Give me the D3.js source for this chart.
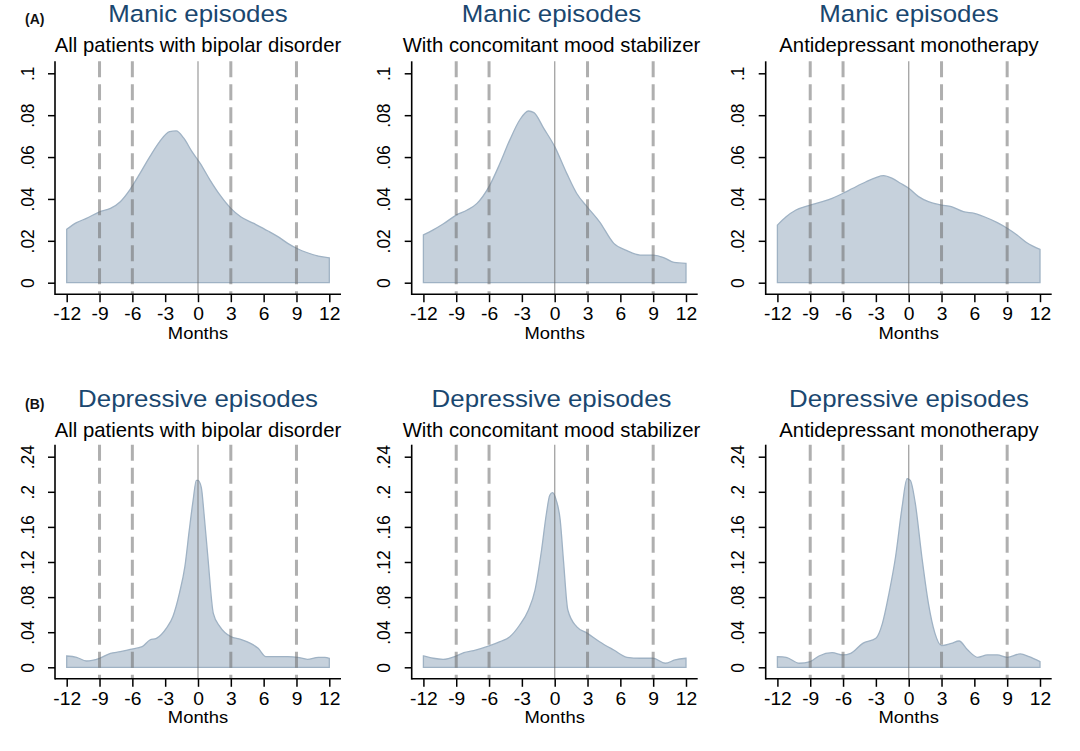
<!DOCTYPE html>
<html>
<head>
<meta charset="utf-8">
<script src="https://cdn.jsdelivr.net/npm/d3@7"></script>
<style>
  html, body { margin: 0; padding: 0; background: #fff; }
  svg { display: block; font-family: "Liberation Sans", Arial, sans-serif; }
</style>
</head>
<body>
<svg id="chart" width="1080" height="751"></svg>
<script>
// ---------------- DATA ----------------
const xTickValues = [-12, -9, -6, -3, 0, 3, 6, 9, 12];
const refLinesDashed = [-9, -6, 3, 9];
const manicYTicks = [0, 0.02, 0.04, 0.06, 0.08, 0.1];
const depYTicks = [0, 0.04, 0.08, 0.12, 0.16, 0.2, 0.24];
const episodeTitles = ["Manic episodes", "Depressive episodes"];
const groupSubtitles = ["All patients with bipolar disorder", "With concomitant mood stabilizer", "Antidepressant monotherapy"];
const panelLetters = ["(A)", "(B)"];
const xAxisTitle = "Months";

// Manic episodes – all patients
const manicAllMonths = [-12,-11.1,-10.2,-9,-8,-7.1,-6.2,-5.3,-4.4,-3.5,-2.6,-2,-1.3,-0.55,0.2,1.1,2,3,3.9,5.1,6.4,7.3,8.2,9.1,10,11,12];
const manicAllDensity = [0.0255,0.0287,0.0307,0.0338,0.0355,0.0387,0.0446,0.0522,0.0602,0.0674,0.0721,0.0725,0.069,0.0626,0.057,0.049,0.0419,0.0355,0.0315,0.0283,0.0247,0.022,0.0188,0.0162,0.0143,0.0127,0.0119];
// Manic – with mood stabilizer
const manicMSMonths = [-12,-11.1,-10.2,-9,-8,-7.1,-6,-5,-4.1,-3.2,-2.4,-1.9,-1,0,1.1,2,3,4.1,5.4,6.6,7.8,9,10,10.9,12];
const manicMSDensity = [0.0228,0.0252,0.028,0.0323,0.0347,0.0379,0.0459,0.057,0.0682,0.0777,0.082,0.0812,0.0737,0.065,0.0522,0.0427,0.036,0.0291,0.0188,0.0153,0.0132,0.0132,0.0119,0.0097,0.0092];
// Manic – antidepressant monotherapy
const manicMonoMonths = [-12,-11.2,-10.3,-9,-7.9,-7,-6,-5.1,-3.9,-3,-2.3,-1.5,-0.75,0,0.9,1.8,3,3.9,5,6,6.9,8.1,9,9.9,10.8,12];
const manicMonoDensity = [0.0275,0.0315,0.0347,0.0371,0.0387,0.0403,0.0427,0.0451,0.0482,0.0502,0.0511,0.0498,0.0475,0.0451,0.0411,0.0387,0.0371,0.0363,0.0339,0.0331,0.0315,0.0287,0.026,0.0228,0.0191,0.0159];
// Depressive – all patients
const depAllMonths = [-12,-11.1,-10.2,-9,-8,-7.1,-6.2,-5.1,-4.4,-3.8,-2.9,-2.3,-1.7,-1.2,-0.8,-0.45,-0.15,0,0.3,0.55,0.9,1.4,2,3,3.9,4.8,5.5,6.2,7.3,8.2,9.1,10,11,11.6,12];
const depAllDensity = [0.0129,0.0114,0.0072,0.0103,0.0159,0.0178,0.0205,0.0235,0.0311,0.033,0.0444,0.0577,0.0843,0.1147,0.156,0.19,0.213,0.213,0.205,0.175,0.126,0.0615,0.0463,0.0349,0.0319,0.0273,0.0216,0.0122,0.0122,0.0122,0.0114,0.0091,0.0114,0.0114,0.0103];
// Depressive – with mood stabilizer
const depMSMonths = [-12,-11.1,-10.2,-9,-8.3,-7.4,-6,-5,-4.1,-3.2,-2.4,-1.8,-1.2,-0.76,-0.45,-0.2,0.15,0.5,0.8,1.2,2,3,4.1,5.4,6.6,7.8,9,10.1,11,12];
const depMSDensity = [0.0129,0.0103,0.0091,0.0129,0.0167,0.019,0.0243,0.0292,0.0349,0.0482,0.0653,0.088,0.1337,0.175,0.196,0.199,0.19,0.168,0.122,0.0653,0.0463,0.0387,0.0292,0.0197,0.0114,0.0103,0.0103,0.0046,0.0084,0.0103];
// Depressive – antidepressant monotherapy
const depMonoMonths = [-12,-11.2,-10,-9,-8.2,-7,-6,-5.3,-4.2,-3,-2.4,-1.8,-1.2,-0.6,-0.15,0.15,0.6,1.2,1.8,2.4,3,3.9,4.6,5.4,6.3,7.2,8.1,9,10.2,11,12];
const depMonoDensity = [0.0122,0.0114,0.0046,0.0065,0.0129,0.0167,0.0141,0.0159,0.0273,0.033,0.0501,0.0843,0.126,0.183,0.215,0.213,0.187,0.126,0.0729,0.0387,0.0247,0.0273,0.03,0.0197,0.0114,0.0141,0.0141,0.0114,0.0152,0.0122,0.0065];

// ---------------- LAYOUT ----------------
const svg = d3.select("#chart");
const colAxisX = [55, 411.7, 765.7];
const colTitleX = [198, 551.5, 909];
const rows = [
  { top: 0,   zeroY: 282.7, maxY: 73.3,  max: 0.1,  ticks: manicYTicks, title: episodeTitles[0], letter: panelLetters[0],
    series: [[manicAllMonths, manicAllDensity], [manicMSMonths, manicMSDensity], [manicMonoMonths, manicMonoDensity]] },
  { top: 385, zeroY: 667.3, maxY: 456.7, max: 0.24, ticks: depYTicks, title: episodeTitles[1], letter: panelLetters[1],
    series: [[depAllMonths, depAllDensity], [depMSMonths, depMSDensity], [depMonoMonths, depMonoDensity]] }
];

const fmtY = v => v === 0 ? "0" : d3.format("~g")(v).replace(/^0/, "");
const fmtX = v => String(v);

rows.forEach((row, ri) => {
  const y = d3.scaleLinear().domain([0, row.max]).range([row.zeroY, row.maxY]);
  const axisY = row.zeroY + 11.5;
  const axisTop = row.maxY - 12;

  // panel letter
  svg.append("text").attr("x", 25).attr("y", row.top + 23.5)
    .attr("font-size", 14).attr("font-weight", "bold").attr("fill", "#111")
    .text(row.letter);

  row.series.forEach((s, ci) => {
    const ax = colAxisX[ci];
    const x = d3.scaleLinear().domain([-12, 12]).range([ax + 11.7, ax + 274.3]);
    const g = svg.append("g");
    const pts = s[0].map((m, i) => [m, s[1][i]]);

    // area
    const area = d3.area().x(d => x(d[0])).y0(y(0)).y1(d => y(d[1])).curve(d3.curveMonotoneX);
    g.append("path").datum(pts).attr("d", area)
      .attr("fill", "#c6d1dc").attr("stroke", "#9fb2c4").attr("stroke-width", 1.3);

    // reference lines
    refLinesDashed.forEach(m => {
      g.append("line").attr("x1", x(m)).attr("x2", x(m)).attr("y1", axisTop).attr("y2", axisY)
        .attr("stroke", "rgb(110,110,110)").attr("stroke-opacity", 0.55)
        .attr("stroke-width", 3).attr("stroke-dasharray", "16,7");
    });
    g.append("line").attr("x1", x(0)).attr("x2", x(0)).attr("y1", axisTop).attr("y2", axisY)
      .attr("stroke", "rgb(110,110,110)").attr("stroke-opacity", 0.6).attr("stroke-width", 1.4);

    // x axis
    const xa = g.append("g").attr("transform", `translate(0,${axisY})`)
      .call(d3.axisBottom(x).tickValues(xTickValues).tickFormat(fmtX).tickSize(8).tickPadding(5.5).tickSizeOuter(0));
    xa.select(".domain").remove();
    xa.selectAll("line").attr("stroke", "#000").attr("stroke-width", 1.5);
    xa.selectAll("text").attr("font-size", 17.5).attr("fill", "#000")
      .attr("transform", "scale(1.1,1)")
      .attr("font-family", "Liberation Sans, Arial, sans-serif");
    g.append("line").attr("x1", ax).attr("x2", ax + 286).attr("y1", axisY).attr("y2", axisY)
      .attr("stroke", "#000").attr("stroke-width", 1.6);

    // y axis
    const ya = g.append("g").attr("transform", `translate(${ax},0)`)
      .call(d3.axisLeft(y).tickValues(row.ticks).tickFormat(fmtY).tickSize(7).tickSizeOuter(0));
    ya.select(".domain").remove();
    ya.selectAll("line").attr("stroke", "#000").attr("stroke-width", 1.5);
    ya.selectAll("text").attr("x", null).attr("dy", null).attr("text-anchor", "middle")
      .attr("transform", "translate(-21.5,0) rotate(-90)")
      .attr("font-size", 17.5).attr("fill", "#000")
      .attr("font-family", "Liberation Sans, Arial, sans-serif");
    g.append("line").attr("x1", ax).attr("x2", ax).attr("y1", axisTop).attr("y2", axisY + 0.8)
      .attr("stroke", "#000").attr("stroke-width", 1.6);

    // axis title
    g.append("text").attr("text-anchor", "middle")
      .attr("transform", `translate(${x(0)},${axisY + 44.5}) scale(1.15,1)`)
      .attr("font-size", 16).attr("fill", "#000").text(xAxisTitle);

    // titles
    g.append("text").attr("text-anchor", "middle")
      .attr("transform", `translate(${colTitleX[ci]},${row.top + 22}) scale(1.1,1)`)
      .attr("font-size", 23.5).attr("fill", "#1a476f").text(row.title);
    g.append("text").attr("x", colTitleX[ci]).attr("y", row.top + 52).attr("text-anchor", "middle")
      .attr("font-size", 20.3).attr("fill", "#000").text(groupSubtitles[ci]);
  });
});
</script>
</body>
</html>
